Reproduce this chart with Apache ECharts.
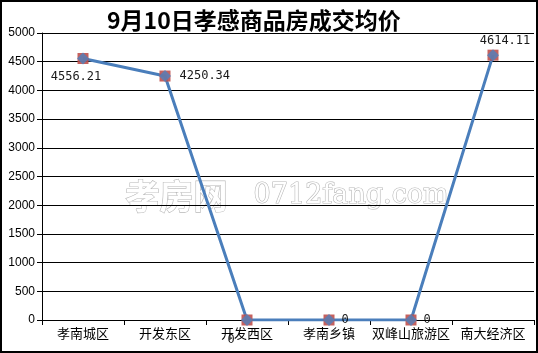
<!DOCTYPE html>
<html>
<head>
<meta charset="utf-8">
<script src="https://cdn.jsdelivr.net/npm/echarts@6/dist/echarts.min.js"></script>
<style>
  html, body { margin: 0; padding: 0; background: #fff; }
  #chart { width: 538px; height: 353px; box-sizing: border-box; border: 2px solid #000; }
</style>
</head>
<body>
<div id="chart"></div>
<script>
const categories = ['孝南城区', '开发东区', '开发西区', '孝南乡镇', '双峰山旅游区', '南大经济区']
const prices = [4556.21, 4250.34, 0, 0, 0, 4614.11]
const yTicks = { min: 0, max: 5000, interval: 500 }

// label placement per point, tuned to the reference
const labelPos = [
  { position: 'bottom', offset: [-7, 2] },
  { position: 'right', offset: [4, 0] },
  { position: 'bottom', offset: [-16, 3] },
  { position: 'right', offset: [2, 0] },
  { position: 'right', offset: [2, 0] },
  { position: 'top', offset: [12, 2] }
]

const chart = echarts.init(document.getElementById('chart'))

const numFont = 'DejaVu Sans Mono'
const cjkFont = '"Noto Sans CJK SC", sans-serif'

chart.setOption({
  backgroundColor: '#fff',
  animation: false,
  title: {
    text: '9月10日孝感商品房成交均价',
    left: 100,
    top: 2,
    textStyle: { fontFamily: cjkFont, fontSize: 23, fontWeight: 'bold', color: '#000' }
  },
  graphic: [
    {
      type: 'text', left: 123, top: 176,
      style: { text: '孝房网', fontFamily: cjkFont, fontSize: 34, fontWeight: 'bold',
        fill: '#fff', stroke: '#b8b8b8', lineWidth: 1.2 },
      z: 0
    },
    {
      type: 'text', left: 251, top: 180,
      style: { text: '0712fang.com', fontFamily: 'DejaVu Serif', fontSize: 27,
        fill: '#fff', stroke: '#b8b8b8', lineWidth: 1.2 },
      z: 0
    }
  ],
  grid: { left: 40, right: 2, top: 31, bottom: 31 },
  xAxis: {
    type: 'category',
    data: categories,
    axisLine: { lineStyle: { color: '#000', width: 1 } },
    axisTick: { show: true, alignWithLabel: false, length: 5, lineStyle: { color: '#000' } },
    axisLabel: { color: '#000', fontFamily: cjkFont, fontSize: 13, margin: 7, interval: 0 },
    splitLine: { show: false }
  },
  yAxis: {
    type: 'value',
    min: yTicks.min,
    max: yTicks.max,
    interval: yTicks.interval,
    axisLine: { show: true, lineStyle: { color: '#000', width: 1 } },
    axisTick: { show: true, length: 5, lineStyle: { color: '#000' } },
    axisLabel: { color: '#000', fontFamily: 'Liberation Sans', fontSize: 12, margin: 7,
      formatter: v => String(v) },
    splitLine: { lineStyle: { color: '#000', width: 1 } }
  },
  series: [
    {
      type: 'line',
      data: prices.map((v, i) => ({
        value: v,
        label: { show: true, ...labelPos[i] }
      })),
      symbol: 'rect',
      symbolSize: 11,
      lineStyle: { color: '#4A7EBB', width: 3 },
      itemStyle: { color: '#C0504D', opacity: 0.9 },
      label: {
        color: '#000',
        fontFamily: numFont,
        fontSize: 12,
        formatter: p => String(p.value)
      },
      z: 3
    },
    {
      type: 'scatter',
      data: prices,
      symbol: 'diamond',
      symbolSize: 12,
      itemStyle: { color: '#4F81BD' },
      z: 4
    }
  ]
})
</script>
</body>
</html>
